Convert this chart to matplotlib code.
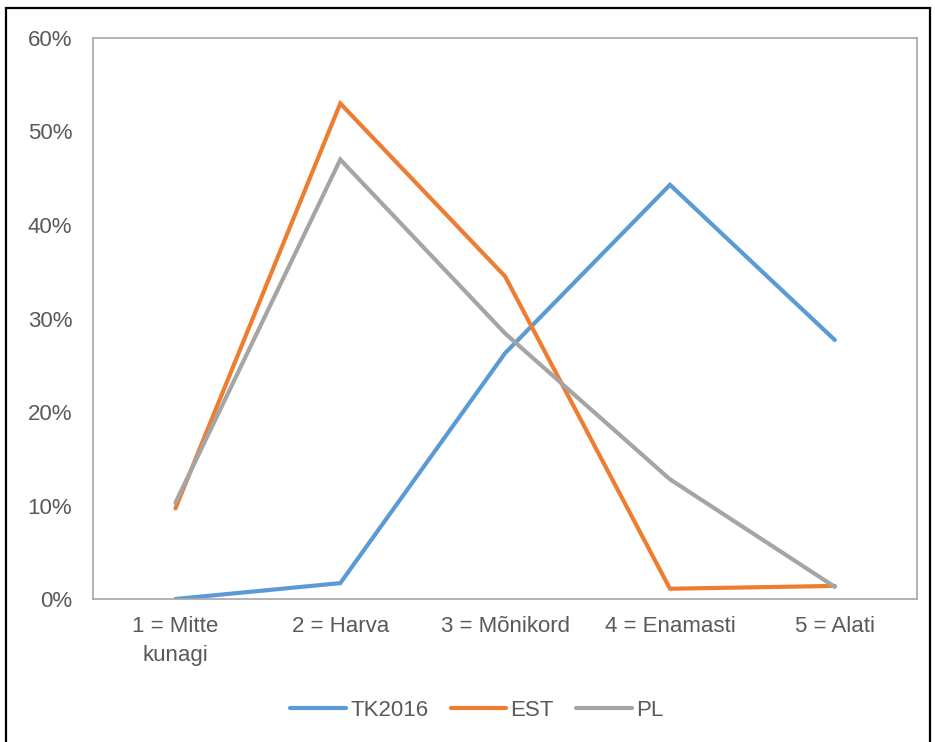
import matplotlib.pyplot as plt
from matplotlib.patches import Rectangle
from matplotlib.ticker import PercentFormatter

categories = ["1 = Mitte\nkunagi", "2 = Harva", "3 = Mõnikord", "4 = Enamasti", "5 = Alati"]
tk2016 = [0.0, 1.7, 26.3, 44.3, 27.7]
est = [9.7, 53.0, 34.5, 1.1, 1.4]
pl = [10.3, 47.0, 28.4, 12.8, 1.3]

plt.rcParams['font.family'] = ['Liberation Sans', 'DejaVu Sans']
text_col = "#595959"

fig = plt.figure(figsize=(9.35, 7.42), dpi=100)
ax = fig.add_axes([0.0995, 0.1927, 0.8815, 0.7561])

x = range(len(categories))
ax.plot(x, tk2016, color="#5B9BD5", lw=3, label="TK2016", solid_capstyle="round", solid_joinstyle="miter")
ax.plot(x, est, color="#ED7D31", lw=3, label="EST", solid_capstyle="round", solid_joinstyle="miter")
ax.plot(x, pl, color="#A5A5A5", lw=3, label="PL", solid_capstyle="round", solid_joinstyle="miter")

ax.set_xlim(-0.5, len(categories) - 0.5)
ax.set_ylim(0, 60)
ax.set_yticks(range(0, 61, 10))
ax.yaxis.set_major_formatter(PercentFormatter(decimals=0))
ax.set_xticks(list(x))
ax.set_xticklabels(categories, linespacing=1.5)
ax.tick_params(length=0, labelsize=16, colors=text_col)
ax.tick_params(axis='y', pad=15)
ax.tick_params(axis='x', pad=12)
for s in ax.spines.values():
    s.set_color("#A6A6A6")
    s.set_linewidth(1.2)

leg = fig.legend(loc="center", bbox_to_anchor=(0.51, 0.043), ncol=3, frameon=False,
                 fontsize=16, handlelength=2.5, columnspacing=1.0, handletextpad=0.2)
for t in leg.get_texts():
    t.set_color(text_col)

# outer frame
fig.patches.append(Rectangle((0.006, -0.05), 0.989, 1.039, transform=fig.transFigure,
                             fill=False, edgecolor="black", lw=1.6))

fig.savefig("out.png", dpi=100)
